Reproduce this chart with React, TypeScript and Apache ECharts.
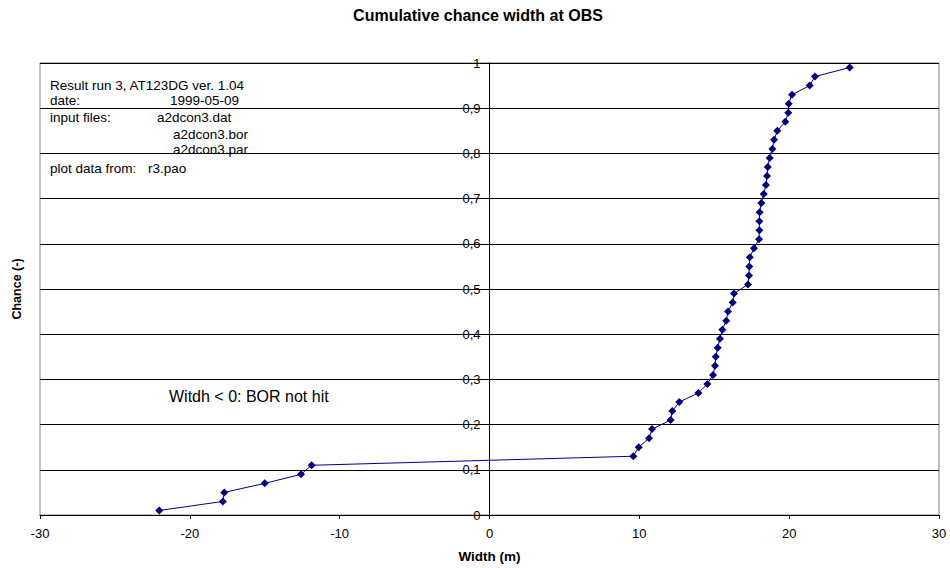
import React, { useEffect, useRef } from "react";
import * as echarts from "echarts";

const widths = [
  -22.04, -17.8, -17.7, -15.0, -12.58, -11.87,
  9.6, 9.96, 10.65, 10.85, 12.09, 12.2, 12.67, 13.94, 14.54, 14.92,
  15.05, 15.1, 15.23, 15.38, 15.54, 15.8, 15.92, 16.23, 16.32, 17.25,
  17.32, 17.34, 17.37, 17.65, 17.99, 18.01, 18.01, 18.03, 18.14, 18.3,
  18.45, 18.52, 18.57, 18.7, 18.88, 18.99, 19.21, 19.74, 19.94, 19.97,
  20.19, 21.37, 21.72, 24.04,
];
const chances = [
  0.01, 0.03, 0.05, 0.07, 0.09, 0.11,
  0.13, 0.15, 0.17, 0.19, 0.21, 0.23, 0.25, 0.27, 0.29, 0.31,
  0.33, 0.35, 0.37, 0.39, 0.41, 0.43, 0.45, 0.47, 0.49, 0.51,
  0.53, 0.55, 0.57, 0.59, 0.61, 0.63, 0.65, 0.67, 0.69, 0.71,
  0.73, 0.75, 0.77, 0.79, 0.81, 0.83, 0.85, 0.87, 0.89, 0.91,
  0.93, 0.95, 0.97, 0.99,
];

const titleText = "Cumulative chance width at OBS";
const xName = "Width (m)";
const yName = "Chance (-)";
const noteText = "Witdh < 0: BOR not hit";

const FONT = "'Liberation Sans', Arial, sans-serif";

const GRID_LEFT = 40;
const GRID_RIGHT = 11;
const CHART_W = 950;
const X_MIN = -30;
const X_MAX = 30;

export default function App() {
  const ref = useRef<HTMLDivElement>(null);
  useEffect(() => {
    if (!ref.current) return;
    const chart = echarts.init(ref.current, undefined, { renderer: "svg" });
    const gridW = CHART_W - GRID_LEFT - GRID_RIGHT;
    const zeroOffset = ((0 - X_MIN) / (X_MAX - X_MIN)) * gridW;
    const infoText = (text: string, x: number, y: number) => ({
      type: "text",
      x,
      y,
      style: {
        text,
        fontFamily: FONT,
        fontSize: 13.5,
        fill: "#000",
        verticalAlign: "middle",
        align: "left",
      },
    });
    chart.setOption({
      animation: false,
      backgroundColor: "#fff",
      textStyle: { fontFamily: FONT },
      grid: {
        left: GRID_LEFT,
        right: GRID_RIGHT,
        top: 63,
        bottom: 53,
        containLabel: false,
        outerBoundsMode: "none",
        show: true,
        borderColor: "#808080",
        borderWidth: 1,
        backgroundColor: "transparent",
      },
      xAxis: {
        type: "value",
        min: X_MIN,
        max: X_MAX,
        interval: 10,
        name: xName,
        nameLocation: "middle",
        nameGap: 34,
        nameTextStyle: { fontFamily: FONT, fontSize: 13.5, fontWeight: "bold", color: "#000" },
        axisLine: { onZero: false, lineStyle: { color: "#000", width: 1 } },
        axisTick: { show: true, length: 4, lineStyle: { color: "#000" } },
        axisLabel: { fontFamily: FONT, fontSize: 13, color: "#000", margin: 12 },
        splitLine: { show: false },
      },
      yAxis: {
        type: "value",
        min: 0,
        max: 1,
        interval: 0.1,
        position: "left",
        offset: -zeroOffset,
        axisLine: { show: true, onZero: false, lineStyle: { color: "#000", width: 1 } },
        axisTick: { show: true, length: 4, lineStyle: { color: "#000" } },
        axisLabel: {
          fontFamily: FONT,
          fontSize: 13,
          color: "#000",
          margin: 9,
          formatter: (v: number) => {
            const s = String(Math.round(v * 10) / 10);
            return s.replace(".", ",");
          },
        },
        splitLine: { show: true, lineStyle: { color: "#000", width: 1 } },
      },
      series: [
        {
          type: "line",
          data: widths.map((w, i) => [w, chances[i]]),
          symbol: "diamond",
          symbolSize: 8,
          showSymbol: true,
          lineStyle: { color: "#000080", width: 1 },
          itemStyle: { color: "#000080" },
          z: 5,
        },
      ],
      graphic: [
        {
          type: "text",
          x: 478,
          y: 15,
          style: {
            text: titleText,
            fontFamily: FONT,
            fontSize: 16,
            fontWeight: "bold",
            fill: "#000",
            align: "center",
            verticalAlign: "middle",
          },
        },
        {
          type: "text",
          x: 17,
          y: 289,
          rotation: Math.PI / 2,
          style: {
            text: yName,
            fontFamily: FONT,
            fontSize: 12.5,
            fontWeight: "bold",
            fill: "#000",
            align: "center",
            verticalAlign: "middle",
          },
        },
        infoText("Result run 3, AT123DG ver. 1.04", 50, 85),
        infoText("date:", 50, 100),
        infoText("1999-05-09", 170, 100),
        infoText("input files:", 50, 117),
        infoText("a2dcon3.dat", 157, 117),
        infoText("a2dcon3.bor", 173, 134),
        infoText("a2dcon3.par", 173, 149),
        infoText("plot data from:", 50, 168),
        infoText("r3.pao", 148, 168),
        {
          type: "text",
          x: 169,
          y: 396,
          style: {
            text: noteText,
            fontFamily: FONT,
            fontSize: 16,
            fill: "#000",
            align: "left",
            verticalAlign: "middle",
          },
        },
      ],
    });
    return () => chart.dispose();
  }, []);
  return (
    <div
      ref={ref}
      style={{ position: "fixed", left: 0, top: 0, width: CHART_W, height: 568 }}
    />
  );
}
